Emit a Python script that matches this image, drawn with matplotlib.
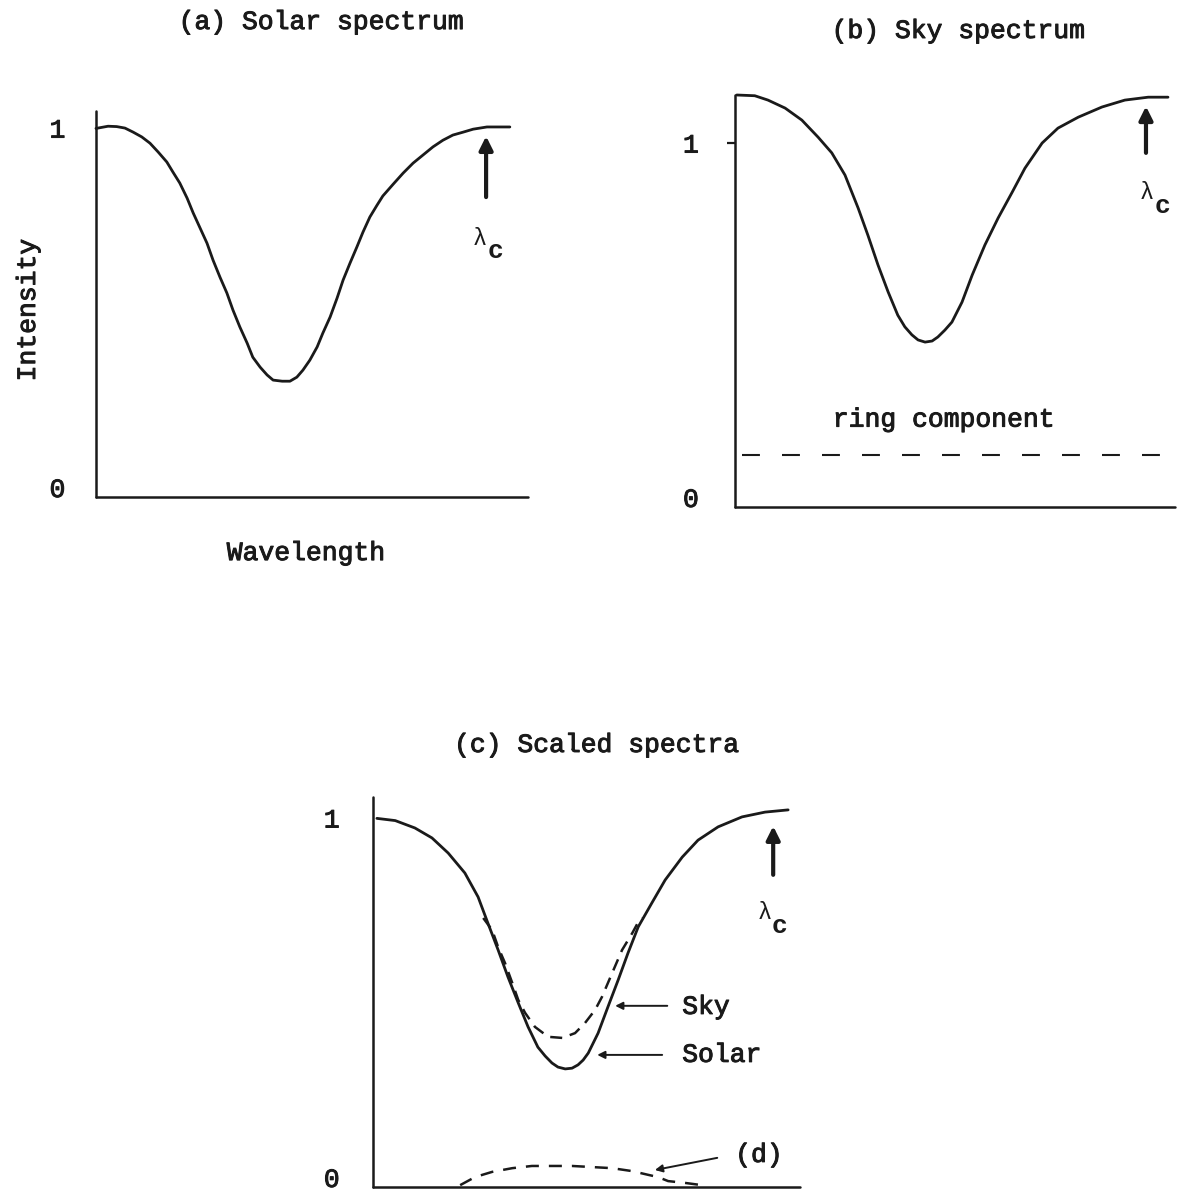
# Imports
import matplotlib.pyplot as plt
import matplotlib.patheffects as pe

# Tipografia de maquina de escribir
plt.rcParams['font.family'] = ['Liberation Mono', 'DejaVu Sans Mono']
TINTA = '#1a1a1a'

# (a) Espectro solar: longitud de onda normalizada e intensidad
solar_x = [0.000, 0.028, 0.048, 0.067, 0.086, 0.106, 0.125, 0.144, 0.164, 0.178,
           0.194, 0.211, 0.225, 0.241, 0.257, 0.271, 0.287, 0.303, 0.317, 0.333,
           0.350, 0.363, 0.380, 0.396, 0.410, 0.431, 0.449, 0.465, 0.479, 0.495,
           0.512, 0.525, 0.542, 0.558, 0.572, 0.588, 0.604, 0.618, 0.634, 0.650,
           0.664, 0.688, 0.711, 0.734, 0.757, 0.780, 0.803, 0.826, 0.850, 0.873,
           0.905, 0.931, 0.958]
solar_y = [0.999, 1.005, 1.004, 1.000, 0.989, 0.976, 0.959, 0.935, 0.908, 0.881,
           0.851, 0.810, 0.770, 0.729, 0.688, 0.642, 0.596, 0.553, 0.507, 0.461,
           0.417, 0.379, 0.352, 0.331, 0.317, 0.314, 0.314, 0.325, 0.344, 0.371,
           0.407, 0.444, 0.488, 0.539, 0.588, 0.634, 0.678, 0.718, 0.759, 0.790,
           0.816, 0.848, 0.878, 0.905, 0.927, 0.949, 0.967, 0.981, 0.989, 0.997,
           1.003, 1.003, 1.003]

# (b) Espectro del cielo y componente ring
cielo_x = [0.004, 0.045, 0.075, 0.114, 0.152, 0.189, 0.220, 0.250, 0.280, 0.302,
           0.325, 0.348, 0.370, 0.386, 0.402, 0.416, 0.432, 0.448, 0.461, 0.477,
           0.493, 0.516, 0.539, 0.568, 0.598, 0.630, 0.659, 0.698, 0.734, 0.780,
           0.834, 0.886, 0.939, 0.984]
cielo_y = [1.132, 1.130, 1.118, 1.096, 1.063, 1.016, 0.973, 0.912, 0.821, 0.747,
           0.665, 0.591, 0.527, 0.495, 0.473, 0.459, 0.453, 0.456, 0.467, 0.486,
           0.508, 0.563, 0.637, 0.720, 0.794, 0.865, 0.931, 1.000, 1.041, 1.071,
           1.099, 1.118, 1.126, 1.126]
ring_x = [0.016, 0.966]
ring_y = [0.143, 0.143]

# (c) Espectros escalados: solar (continuo), cielo (discontinuo) y diferencia (d)
esc_solar_x = [0.009, 0.052, 0.098, 0.138, 0.176, 0.215, 0.246, 0.269, 0.293, 0.316,
               0.340, 0.363, 0.386, 0.403, 0.419, 0.433, 0.450, 0.466, 0.480, 0.492,
               0.504, 0.527, 0.550, 0.574, 0.597, 0.621, 0.653, 0.684, 0.724, 0.761,
               0.808, 0.864, 0.918, 0.972]
esc_solar_y = [0.999, 0.993, 0.973, 0.946, 0.905, 0.851, 0.786, 0.715, 0.642, 0.569,
               0.499, 0.434, 0.379, 0.355, 0.336, 0.325, 0.320, 0.322, 0.331, 0.344,
               0.363, 0.417, 0.488, 0.561, 0.634, 0.705, 0.770, 0.832, 0.894, 0.940,
               0.976, 1.003, 1.016, 1.022]
esc_cielo_x = [0.258, 0.279, 0.293, 0.309, 0.326, 0.340, 0.356, 0.379, 0.410, 0.443,
               0.473, 0.496, 0.520, 0.536, 0.560, 0.583, 0.607, 0.621, 0.632]
esc_cielo_y = [0.729, 0.696, 0.650, 0.607, 0.553, 0.507, 0.472, 0.434, 0.407, 0.404,
               0.417, 0.444, 0.480, 0.515, 0.580, 0.642, 0.688, 0.718, 0.729]
dif_x = [0.204, 0.239, 0.279, 0.326, 0.372, 0.419, 0.466, 0.513, 0.560, 0.607,
         0.644, 0.667, 0.691, 0.731, 0.770]
dif_y = [0.005, 0.027, 0.041, 0.051, 0.057, 0.057, 0.057, 0.054, 0.051, 0.043,
         0.033, 0.027, 0.016, 0.011, 0.005]

etiquetas_y = ['0', '1']
FS = 19
grueso = [pe.withStroke(linewidth=0.7, foreground=TINTA)]


# Ejes con solo el borde izquierdo e inferior, marcas 0 y 1
def preparar_ejes(ax, ymax, pad, marca=0):
    ax.set_xlim(0, 1)
    ax.set_ylim(0, ymax)
    ax.patch.set_alpha(0)
    for lado in ['top', 'right']:
        ax.spines[lado].set_visible(False)
    for lado in ['left', 'bottom']:
        ax.spines[lado].set_linewidth(1.8)
        ax.spines[lado].set_color(TINTA)
        ax.spines[lado].set_capstyle('round')
    ax.set_xticks([])
    ax.set_yticks([0, 1])
    ax.set_yticklabels(etiquetas_y)
    ax.tick_params(axis='y', length=marca, width=1.6, color=TINTA, pad=pad,
                   labelsize=FS, labelcolor=TINTA)
    etiquetas = ax.get_yticklabels()
    etiquetas[0].set_verticalalignment('baseline')
    for lbl in etiquetas:
        lbl.set_path_effects(grueso)
    if marca:
        # sin marca en el 0
        ax.yaxis.get_major_ticks()[0].tick1line.set_visible(False)


# Flecha gruesa que senala lambda_c
def flecha_lambda(ax, x, y0, y1, xl, yl):
    ax.annotate('', xy=(x, y1), xytext=(x, y0),
                arrowprops=dict(arrowstyle='-|>', lw=3, color=TINTA,
                                mutation_scale=20, shrinkA=0, shrinkB=0),
                annotation_clip=False)
    ax.text(xl, yl, 'λ', fontsize=17, color=TINTA, ha='center', va='center')
    ax.text(xl + 0.035, yl - 0.035, 'c', fontsize=19, fontweight='bold',
            color=TINTA, ha='center', va='center')


fig = plt.figure(figsize=(11.82, 11.92), dpi=100)

# Panel (a)
ax_a = fig.add_axes([0.0812, 0.5830, 0.3655, 0.3238])
preparar_ejes(ax_a, 1.046, 22)
ax_a.plot(solar_x, solar_y, color=TINTA, lw=2.0, solid_joinstyle='round',
          solid_capstyle='round', clip_on=False)
flecha_lambda(ax_a, 0.903, 0.813, 0.978, 0.889, 0.702)

# Panel (b)
ax_b = fig.add_axes([0.6218, 0.5747, 0.3723, 0.3456])
preparar_ejes(ax_b, 1.132, 20, marca=6)
ax_b.plot(cielo_x, cielo_y, color=TINTA, lw=2.0, solid_joinstyle='round',
          solid_capstyle='round', clip_on=False)
ax_b.plot(ring_x, ring_y, color=TINTA, lw=1.5, dashes=(8.6, 10.6), clip_on=False)
ax_b.text(0.475, 0.240, 'ring component', fontsize=FS, color=TINTA,
          ha='center', va='center', path_effects=grueso)
flecha_lambda(ax_b, 0.934, 0.973, 1.101, 0.936, 0.863)

# Panel (c)
ax_c = fig.add_axes([0.3156, 0.0042, 0.3613, 0.3272])
preparar_ejes(ax_c, 1.057, 24)
ax_c.plot(esc_solar_x, esc_solar_y, color=TINTA, lw=2.0, solid_joinstyle='round',
          solid_capstyle='round', clip_on=False)
ax_c.plot(esc_cielo_x, esc_cielo_y, color=TINTA, lw=1.8, dashes=(4.8, 3.2), clip_on=False)
ax_c.plot(dif_x, dif_y, color=TINTA, lw=1.8, dashes=(5.2, 4.0), clip_on=False)
flecha_lambda(ax_c, 0.937, 0.846, 0.978, 0.918, 0.743)

# Flechas finas con su rotulo
rotulos = [('Sky', (0.567, 0.491), (0.689, 0.491), (0.724, 0.488)),
           ('Solar', (0.525, 0.358), (0.677, 0.358), (0.724, 0.358)),
           ('(d)', (0.660, 0.046), (0.806, 0.079), (0.848, 0.087))]
for texto, punta, cola, pos in rotulos:
    ax_c.annotate('', xy=punta, xytext=cola,
                  arrowprops=dict(arrowstyle='-|>', lw=1.4, color=TINTA,
                                  mutation_scale=11, shrinkA=0, shrinkB=0))
    ax_c.text(pos[0], pos[1], texto, fontsize=FS, color=TINTA,
              ha='left', va='center', path_effects=grueso)

# Titulos y etiquetas de ejes
fig.text(0.272, 0.9815, '(a) Solar spectrum', fontsize=FS, color=TINTA,
         ha='center', va='center', path_effects=grueso)
fig.text(0.811, 0.974, '(b) Sky spectrum', fontsize=FS, color=TINTA,
         ha='center', va='center', path_effects=grueso)
fig.text(0.505, 0.375, '(c) Scaled spectra', fontsize=FS, color=TINTA,
         ha='center', va='center', path_effects=grueso)
fig.text(0.0237, 0.740, 'Intensity', fontsize=FS, color=TINTA, rotation=90,
         ha='center', va='center', path_effects=grueso)
fig.text(0.259, 0.536, 'Wavelength', fontsize=FS, color=TINTA,
         ha='center', va='center', path_effects=grueso)

fig.savefig('out.png', dpi=100)
